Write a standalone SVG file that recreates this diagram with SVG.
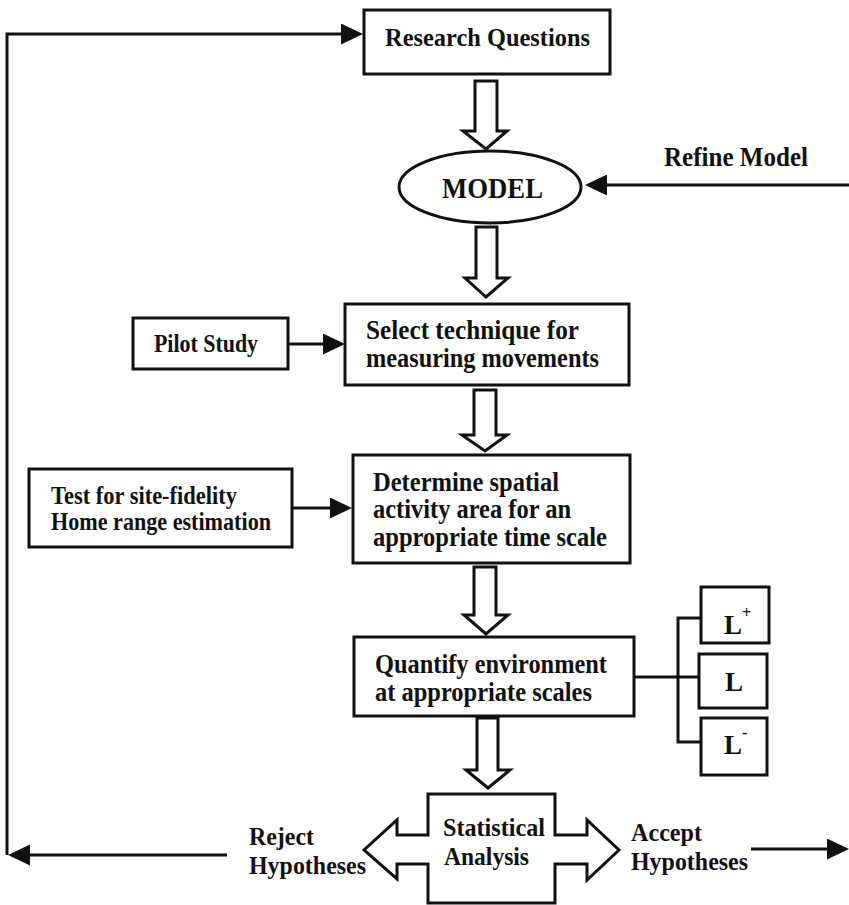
<svg xmlns="http://www.w3.org/2000/svg" width="849" height="905" viewBox="0 0 849 905">
  <style>
    .box { fill: #fff; stroke: #111; stroke-width: 3; }
    .flow { fill: #fff; stroke: #111; stroke-width: 3; stroke-linejoin: miter; }
    .line { fill: none; stroke: #111; stroke-width: 3; }
    .arrow { marker-end: url(#head); }
    text { font-family: "Liberation Serif", "Times New Roman", serif; font-weight: bold; fill: #111; }
    .t27 { font-size: 27px; }
    .t25 { font-size: 25px; }
  </style>
  <defs>
    <marker id="head" markerUnits="userSpaceOnUse" viewBox="0 0 22 21" markerWidth="22" markerHeight="21" refX="0" refY="10.5" orient="auto">
      <path d="M0,0 L22,10.5 L0,21 z" fill="#111"/>
    </marker>
  </defs>
  <rect width="849" height="905" fill="#fff"/>

  <!-- connectors -->
  <g id="connectors">
    <!-- feedback loop: reject hypotheses back to research questions -->
    <polyline class="line" points="227,855 30,855"/>
    <path d="M30,844.5 L8,855 L30,865.5 z" fill="#111"/>
    <polyline class="line arrow" points="7,855 7,34 341,34"/>
    <!-- refine model -->
    <line class="line arrow" x1="849" y1="185" x2="607" y2="185"/>
    <!-- side inputs -->
    <line class="line arrow" x1="288" y1="344" x2="323" y2="344"/>
    <line class="line arrow" x1="293" y1="508" x2="330" y2="508"/>
    <!-- accept hypotheses -->
    <line class="line arrow" x1="751" y1="849" x2="827" y2="849"/>
    <!-- scale bracket -->
    <line class="line" x1="634" y1="677" x2="699" y2="677"/>
    <polyline class="line" points="701,618 678,618 678,742 701,742"/>
    <!-- block arrows down the main column -->
    <polygon class="flow" points="475,81 497,81 497,131 507,131 486,149 463,131 475,131"/>
    <polygon class="flow" points="476,227 497,227 497,278 508,278 486,297 465,278 476,278"/>
    <polygon class="flow" points="474,390 496,390 496,435 507,435 485,451 462,435 474,435"/>
    <polygon class="flow" points="474,567 496,567 496,615 508,615 486,634 464,615 474,615"/>
    <polygon class="flow" points="477,718 498,718 498,770 510,770 488,788 466,770 477,770"/>
  </g>

  <g id="research-questions">
    <rect class="box" x="364" y="10" width="246" height="64"/>
    <text x="385" y="46" font-size="26" textLength="205" lengthAdjust="spacingAndGlyphs">Research Questions</text>
  </g>

  <g id="model">
    <ellipse class="box" cx="490" cy="187" rx="91" ry="36"/>
    <text x="442" y="198" font-size="30" textLength="101" lengthAdjust="spacingAndGlyphs">MODEL</text>
  </g>

  <g id="refine-model">
    <text class="t27" x="664" y="166" textLength="144" lengthAdjust="spacingAndGlyphs">Refine Model</text>
  </g>

  <g id="pilot-study">
    <rect class="box" x="133" y="318" width="155" height="51"/>
    <text class="t25" x="154" y="352" textLength="104" lengthAdjust="spacingAndGlyphs">Pilot Study</text>
  </g>

  <g id="select-technique">
    <rect class="box" x="345" y="304" width="284" height="81"/>
    <text class="t27" x="366" y="339" textLength="213" lengthAdjust="spacingAndGlyphs">Select technique for</text>
    <text class="t27" x="366" y="367" textLength="233" lengthAdjust="spacingAndGlyphs">measuring movements</text>
  </g>

  <g id="site-fidelity">
    <rect class="box" x="29" y="469" width="263" height="78"/>
    <text class="t25" x="51" y="504" textLength="186" lengthAdjust="spacingAndGlyphs">Test for site-fidelity</text>
    <text class="t25" x="51" y="530" textLength="220" lengthAdjust="spacingAndGlyphs">Home range estimation</text>
  </g>

  <g id="activity-area">
    <rect class="box" x="353" y="455" width="277" height="108"/>
    <text class="t27" x="373" y="491" textLength="186" lengthAdjust="spacingAndGlyphs">Determine spatial</text>
    <text class="t27" x="373" y="518" textLength="198" lengthAdjust="spacingAndGlyphs">activity area for an</text>
    <text class="t27" x="373" y="546" textLength="234" lengthAdjust="spacingAndGlyphs">appropriate time scale</text>
  </g>

  <g id="quantify-environment">
    <rect class="box" x="354" y="637" width="280" height="79"/>
    <text class="t27" x="375" y="673" textLength="232" lengthAdjust="spacingAndGlyphs">Quantify environment</text>
    <text class="t27" x="375" y="701" textLength="217" lengthAdjust="spacingAndGlyphs">at appropriate scales</text>
  </g>

  <g id="scale-plus">
    <rect class="box" x="701" y="587" width="68" height="56"/>
    <text class="t27" x="724" y="634">L<tspan font-size="16" dy="-16">+</tspan></text>
  </g>
  <g id="scale-base">
    <rect class="box" x="699" y="654" width="68" height="54"/>
    <text class="t27" x="725" y="691">L</text>
  </g>
  <g id="scale-minus">
    <rect class="box" x="701" y="718" width="66" height="57"/>
    <text class="t27" x="724" y="754">L<tspan font-size="16" dy="-16">-</tspan></text>
  </g>

  <g id="statistical-analysis">
    <polygon class="flow" points="428,794 555,794 555,835 587,835 587,820 619,850 587,880 587,864 555,864 555,903 428,903 428,864 397,864 397,879 364,850 397,820 397,835 428,835"/>
    <text class="t25" x="443" y="836" textLength="102" lengthAdjust="spacingAndGlyphs">Statistical</text>
    <text class="t25" x="444" y="865" textLength="85" lengthAdjust="spacingAndGlyphs">Analysis</text>
  </g>

  <g id="reject-hypotheses">
    <text class="t25" x="249" y="845" textLength="65" lengthAdjust="spacingAndGlyphs">Reject</text>
    <text class="t25" x="249" y="874" textLength="117" lengthAdjust="spacingAndGlyphs">Hypotheses</text>
  </g>

  <g id="accept-hypotheses">
    <text class="t25" x="631" y="841" textLength="71" lengthAdjust="spacingAndGlyphs">Accept</text>
    <text class="t25" x="631" y="870" textLength="117" lengthAdjust="spacingAndGlyphs">Hypotheses</text>
  </g>
</svg>
